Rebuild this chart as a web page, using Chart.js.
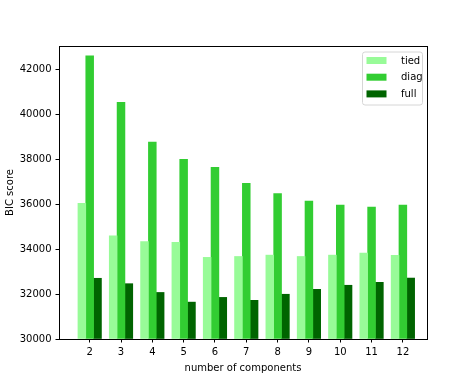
<!DOCTYPE html>
<html>
<head>
<meta charset="utf-8">
<script src="https://cdn.jsdelivr.net/npm/chart.js@4"></script>
<style>
  html, body { margin: 0; padding: 0; background: #fff; }
  #wrap { width: 474px; height: 381px; }
</style>
</head>
<body>
<div id="wrap"><canvas id="bicChart" width="474" height="381"></canvas></div>
<script>
// Data
const components = [2, 3, 4, 5, 6, 7, 8, 9, 10, 11, 12];
const tiedScores = [36030, 34590, 34330, 34300, 33630, 33670, 33730, 33670, 33730, 33820, 33720];
const diagScores = [42590, 40520, 38760, 37990, 37630, 36920, 36470, 36130, 35960, 35870, 35960];
const fullScores = [32700, 32460, 32070, 31640, 31850, 31720, 31990, 32210, 32390, 32520, 32710];
const yTicks = [30000, 32000, 34000, 36000, 38000, 40000, 42000];

const SERIES = [
    { label: 'tied', values: tiedScores, color: '#98fb98', shift: -0.25 },
    { label: 'diag', values: diagScores, color: '#32cd32', shift: 0 },
    { label: 'full', values: fullScores, color: '#006400', shift: 0.25 }
];

const FONT = { family: "'DejaVu Sans', sans-serif", size: 10 };

// Frame around the plot area (matplotlib style box)
const framePlugin = {
    id: 'frame',
    afterDatasetsDraw(chart) {
        const { ctx, chartArea: a } = chart;
        ctx.save();
        ctx.strokeStyle = '#000';
        ctx.lineWidth = 1;
        ctx.strokeRect(Math.round(a.left) + 0.5, Math.round(a.top) + 0.5,
            Math.round(a.right - a.left), Math.round(a.bottom - a.top));
        ctx.restore();
    }
};

// Legend box in the upper right corner
const legendPlugin = {
    id: 'boxLegend',
    afterDraw(chart) {
        const { ctx, chartArea: a } = chart;
        const w = 60, h = 53;
        const x = a.right - 5 - w, y = a.top + 5.5;
        ctx.save();
        ctx.beginPath();
        ctx.roundRect(x + 0.5, y + 0.5, w, h, 2.5);
        ctx.fillStyle = 'rgba(255,255,255,0.8)';
        ctx.fill();
        ctx.strokeStyle = '#d6d6d6';
        ctx.lineWidth = 1;
        ctx.stroke();
        ctx.font = `${FONT.size}px ${FONT.family}`;
        ctx.textBaseline = 'middle';
        ctx.textAlign = 'left';
        chart.data.datasets.forEach((ds, i) => {
            const cy = y + 9 + i * 16.7;
            ctx.fillStyle = ds.backgroundColor;
            ctx.fillRect(x + 4.5, cy - 3.5, 20, 7);
            ctx.fillStyle = '#000';
            ctx.fillText(ds.label, x + 39, cy + 0.5);
        });
        ctx.restore();
    }
};

new Chart(document.getElementById('bicChart'), {
    type: 'bar',
    data: {
        datasets: SERIES.map(s => ({
            label: s.label,
            data: components.map((c, i) => ({ x: c + s.shift, y: s.values[i] })),
            backgroundColor: s.color,
            borderWidth: 0,
            grouped: false,
            categoryPercentage: 1,
            barPercentage: 1,
            base: 30000
        }))
    },
    options: {
        responsive: false,
        animation: false,
        events: [],
        layout: { padding: { left: 0, top: 46, right: 47, bottom: 0 } },
        plugins: { legend: { display: false }, tooltip: { enabled: false } },
        scales: {
            x: {
                type: 'linear',
                offset: false,
                min: 1.02,
                max: 12.77,
                afterBuildTicks: s => { s.ticks = components.map(v => ({ value: v })); },
                afterFit: s => { s.height = 42; },
                grid: { drawOnChartArea: false, drawTicks: true, tickLength: 3.5, color: '#000', offset: false },
                border: { display: true, color: '#000' },
                ticks: { color: '#000', font: FONT, padding: 4, maxRotation: 0, autoSkip: false },
                title: { display: true, text: 'number of components', color: '#000', font: FONT, padding: { top: 0, bottom: 7 } }
            },
            y: {
                min: 30000,
                max: 43030,
                afterBuildTicks: s => { s.ticks = yTicks.map(v => ({ value: v })); },
                afterFit: s => { s.width = 59; },
                grid: { drawOnChartArea: false, drawTicks: true, tickLength: 3.5, color: '#000' },
                border: { display: true, color: '#000' },
                ticks: { color: '#000', font: FONT, padding: 4, callback: v => String(v) },
                title: { display: true, text: 'BIC score', color: '#000', font: FONT, padding: { top: 4, bottom: 0 } }
            }
        }
    },
    plugins: [framePlugin, legendPlugin]
});
</script>
</body>
</html>
